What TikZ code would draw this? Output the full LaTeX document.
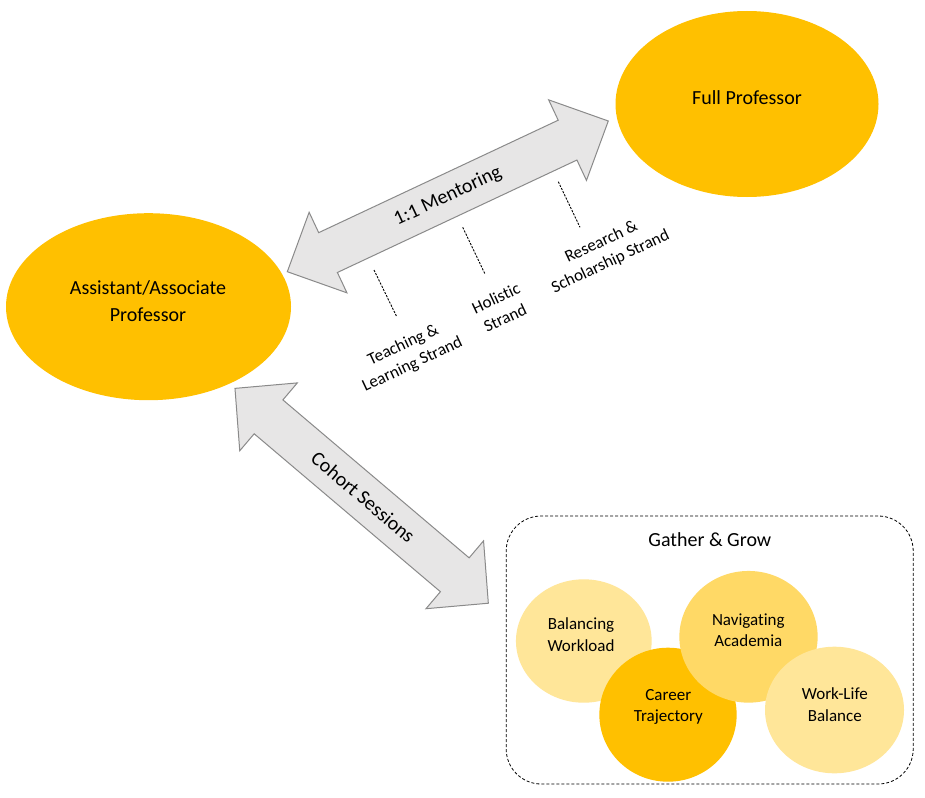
\documentclass[tikz,border=0pt]{standalone}
\usepackage{fontspec}
\setmainfont{Carlito}[Ligatures={NoCommon,NoRare},RawFeature={-liga;-dlig}]
\usetikzlibrary{shapes.geometric}
\definecolor{gold}{HTML}{FFC000}
\definecolor{goldmid}{HTML}{FFD966}
\definecolor{goldlight}{HTML}{FFE699}
\definecolor{arrowfill}{HTML}{E7E6E6}
\definecolor{arrowline}{HTML}{8A8A8A}
\begin{document}
\begin{tikzpicture}[x=1pt,y=-1pt,
  bigoval/.style={ellipse, fill=gold, draw=none, inner sep=0pt},
  topic/.style={ellipse, draw=none, inner sep=0pt},
  bigtext/.style={font=\fontsize{20}{26.7}\selectfont, align=center, inner sep=0pt},
  smalltext/.style={font=\fontsize{17}{21.7}\selectfont, align=center, inner sep=0pt},
  blockarrow/.style={fill=arrowfill, draw=arrowline, line width=1pt, line join=miter},
  strandline/.style={draw=black, line width=0.9pt, dash pattern=on 2.2pt off 1.3pt},
  groupbox/.style={draw=black, line width=0.8pt, dash pattern=on 3pt off 2pt, rounded corners=35pt, inner sep=0pt}]
\useasboundingbox (0,0) rectangle (925,797);
\fill[white] (0,0) rectangle (925,797);

% main ovals
\node[bigoval, minimum width=263, minimum height=186] (fp) at (747,104) {};
\node[bigtext] (fpt) at (747,97.5) {Full Professor};
\node[bigoval, minimum width=285, minimum height=187] (ap) at (148.5,306.7) {};
\node[bigtext] (apt) at (148,301) {Assistant/Associate\\Professor};

% 1:1 mentoring block arrow
\begin{scope}[shift={(447.8,196.35)}, rotate=25.15]
  \draw[blockarrow] (-177.3,0) -- (-132.3,-44.5) -- (-132.3,-22) -- (132.3,-22) -- (132.3,-44.5)
    -- (177.3,0) -- (132.3,44.5) -- (132.3,22) -- (-132.3,22) -- (-132.3,44.5) -- cycle;
  \node[bigtext, rotate=25.15] (ment) at (0,0) {1:1 Mentoring};
\end{scope}

% cohort sessions block arrow
\begin{scope}[shift={(361.65,495.8)}, rotate=-40.3]
  \draw[blockarrow] (-166.1,0) -- (-122.1,-44.5) -- (-122.1,-22.2) -- (122.1,-22.2) -- (122.1,-44.5)
    -- (166.1,0) -- (122.1,44.5) -- (122.1,22.2) -- (-122.1,22.2) -- (-122.1,44.5) -- cycle;
  \node[bigtext, rotate=-40.3] (coh) at (2,0) {Cohort Sessions};
\end{scope}

% strands
\coordinate (s1a) at (374,270);
\coordinate (s1b) at (396.7,316.7);
\coordinate (s2a) at (462.7,227.3);
\coordinate (s2b) at (485,274);
\coordinate (s3a) at (558.3,181.7);
\coordinate (s3b) at (580,227.3);
\draw[strandline] (s1a) -- (s1b);
\draw[strandline] (s2a) -- (s2b);
\draw[strandline] (s3a) -- (s3b);
\node[smalltext, rotate=25.15] (tl) at (408,355) {Teaching \&\\Learning Strand};
\node[smalltext, rotate=25.15] (hs) at (500.5,308) {Holis\kern0pt tic\\Strand};
\node[smalltext, rotate=25.15] (rs) at (606,252) {Research \&\\Scholarship Strand};

% gather & grow
\node[groupbox, minimum width=407, minimum height=268] (gg) at (709.7,650) {};
\node[bigtext] (ggt) at (709.8,540) {Gather \& Grow};

\node[topic, fill=goldlight, minimum width=135.7, minimum height=123.4] (bw) at (583.8,641) {};
\node[smalltext] (bwt) at (581,635) {Balancing\\Workload};
\node[topic, fill=gold, minimum width=137.3, minimum height=134] (ct) at (668,714.7) {};
\node[smalltext] (ctt) at (668.3,707) {Career\\Trajectory};
\node[topic, fill=goldmid, minimum width=138.3, minimum height=131.7] (na) at (748.5,636.8) {};
\node[smalltext] (nat) at (748.3,630.3) {Navigat\kern0pt ing\\Academia};
\node[topic, fill=goldlight, minimum width=139, minimum height=126.6] (wl) at (834.5,710) {};
\node[smalltext] (wlt) at (834.8,704.5) {Work-Life\\Balance};
\end{tikzpicture}
\end{document}
